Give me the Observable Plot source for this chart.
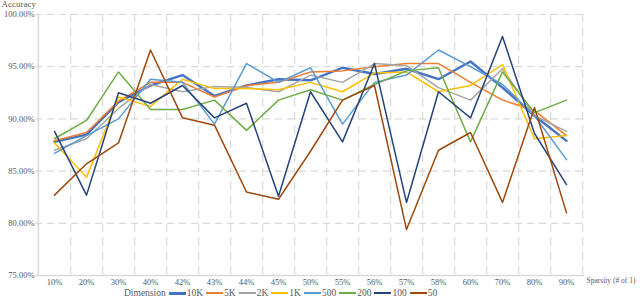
<!DOCTYPE html>
<html><head><meta charset="utf-8">
<script src="https://cdn.jsdelivr.net/npm/d3@7"></script>
<script src="https://cdn.jsdelivr.net/npm/@observablehq/plot@0.6"></script>
<style>
body{margin:0;background:#fff;font-family:"Liberation Serif",serif;color:#595959}
#legend{display:flex;align-items:center;height:12px;padding-left:124px;font-size:9.5px;line-height:12px;white-space:nowrap}
.item{display:flex;align-items:center;margin-left:3px}
.sw{width:17px;height:2px;margin-right:1px}
</style></head><body><div id="chart"></div><div id="legend"><span>Dimension</span></div>
<script>
const categories = ["10%","20%","30%","40%","42%","43%","44%","45%","50%","55%","56%","57%","58%","60%","70%","80%","90%"];
const seriesNames = ["10K","5K","2K","1K","500","200","100","50"];
const colors = ["#4472C4","#ED7D31","#A5A5A5","#FFC000","#5B9BD5","#70AD47","#264478","#9E480E"];
const s10K = [87.8,88.5,91.6,93.2,94.2,92.2,93.2,93.8,93.7,94.9,94.3,94.8,93.8,95.5,93.0,90.3,87.9];
const s5K  = [87.9,88.7,91.7,93.5,93.5,92.1,93.2,93.5,94.5,94.6,95.0,95.3,95.3,93.5,91.8,90.8,88.4];
const s2K  = [87.0,88.1,91.0,93.3,92.6,93.1,93.0,92.6,94.2,93.5,95.3,95.1,93.0,91.8,94.8,90.3,88.8];
const s1K  = [87.7,84.4,92.1,91.2,93.8,92.9,92.9,92.8,93.5,92.6,94.4,94.5,92.6,93.2,95.2,88.1,88.4];
const s500 = [86.7,88.4,90.0,93.8,93.5,89.5,95.3,93.5,94.9,89.5,93.5,94.2,96.6,95.0,93.3,90.3,86.1];
const s200 = [88.1,89.85,94.5,90.9,90.9,91.8,88.9,91.8,92.8,91.8,93.3,94.6,94.9,87.8,94.5,90.6,91.8];
const s100 = [88.8,82.7,92.5,91.5,93.2,90.1,91.5,82.6,92.6,87.8,95.3,82.0,92.6,90.1,97.9,88.6,83.7];
const s50  = [82.7,85.7,87.7,96.6,90.1,89.4,83.0,82.3,86.9,91.8,93.2,79.4,87.0,88.7,82.0,91.1,81.0];
const yTicks = [75,80,85,90,95,100];

const allSeries = [s10K,s5K,s2K,s1K,s500,s200,s100,s50];
const data = [];
allSeries.forEach((arr,i)=>arr.forEach((v,j)=>data.push({series: seriesNames[i], cat: categories[j], value: v})));

const W=640, H=287, mL=35, mR=56, mT=14, mB=12;
const step = (W-mL-mR)/categories.length;
const grid = "#D9D9D9";

const plot = Plot.plot({
  width: W, height: H, marginLeft: mL, marginRight: mR, marginTop: mT, marginBottom: mB,
  style: {fontFamily: "Liberation Serif, serif", fontSize: "9px", color: "#595959", background: "#fff", overflow: "visible"},
  x: {type: "point", domain: categories, padding: 0.5, axis: null},
  y: {domain: [75, 100], axis: null},
  color: {domain: seriesNames, range: colors},
  marks: [
    Plot.ruleY(yTicks.filter(d => d > 75), {stroke: grid, strokeDasharray: "7,5", strokeWidth: 1.2}),
    Plot.ruleX(categories, {dx: step/2, stroke: grid, strokeDasharray: "8,6", strokeWidth: 1.2}),
    Plot.ruleY([75], {stroke: grid, strokeWidth: 1.5}),
    Plot.ruleX([categories[0]], {dx: -step/2, stroke: grid, strokeWidth: 1.5}),
    Plot.axisY({ticks: yTicks, tickSize: 0, tickPadding: 1, tickFormat: d => d.toFixed(2) + "%", label: null, fill: "#595959", fontSize: 8.5}),
    Plot.axisX({tickSize: 0, tickPadding: 3, label: null, fill: "#595959", fontSize: 8.5}),
    Plot.line(data.filter(d => d.series === "10K"), {x: "cat", y: "value", stroke: "series", strokeWidth: 2.4}),
    Plot.line(data.filter(d => d.series !== "10K"), {x: "cat", y: "value", stroke: "series", z: "series", strokeWidth: 1.5}),
    Plot.text(["Accuracy"], {text: d => d, frameAnchor: "top-left", dx: -34, dy: -14, textAnchor: "start", lineAnchor: "top", fontSize: 9, fill: "#595959"}),
    Plot.text(["Sparsity (# of 1)"], {text: d => d, frameAnchor: "bottom-right", dx: 2, dy: 7, textAnchor: "start", fontSize: 7.5, fill: "#595959"})
  ]
});
document.getElementById("chart").appendChild(plot);

const legend = document.getElementById("legend");
seriesNames.forEach((n, i) => {
  const it = document.createElement("span");
  it.className = "item";
  const sw = document.createElement("span");
  sw.className = "sw";
  sw.style.background = colors[i];
  if (i === 0) sw.style.height = "3px";
  it.appendChild(sw);
  it.appendChild(document.createTextNode(n));
  legend.appendChild(it);
});
</script></body></html>
